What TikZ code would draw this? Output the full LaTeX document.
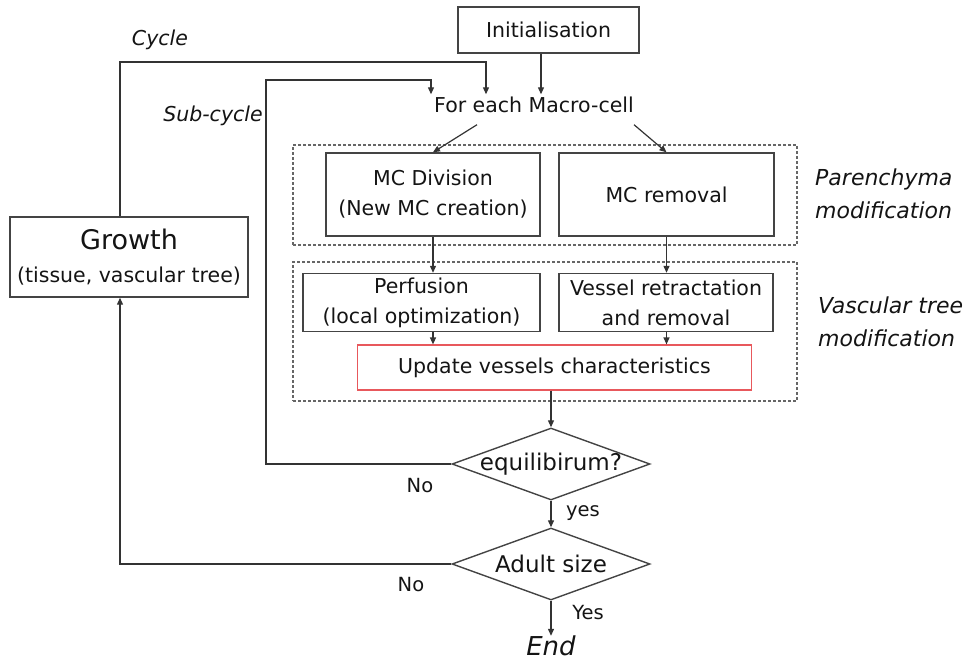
\documentclass[tikz,border=0pt]{standalone}
\usepackage{fontspec}
\setmainfont{DejaVu Sans}[ItalicFont={DejaVu Sans Oblique}]
\usetikzlibrary{arrows.meta,shapes.geometric}
\definecolor{ln}{HTML}{333333}
\definecolor{bx}{HTML}{444444}
\definecolor{dsh}{HTML}{666666}
\definecolor{rd}{HTML}{E8585C}
\definecolor{tx}{HTML}{141414}
\tikzset{
  arr/.style={draw=ln,line width=1.2pt,-{Triangle[length=7pt,width=6pt]}},
  box/.style={draw=bx,line width=1.4pt,rectangle,inner sep=0pt,align=center,text=tx,
     font=\fontsize{20.5}{30}\selectfont},
  redbox/.style={box,draw=rd,line width=1.2pt},
  dashbox/.style={draw=dsh,line width=1.2pt,dash pattern=on 3pt off 2pt,rectangle,inner sep=0pt},
  dmd/.style={draw=bx,line width=1.4pt,diamond,aspect=2.75,inner sep=-8pt,minimum width=198pt,minimum height=72pt,
     text=tx,font=\fontsize{23}{26}\selectfont},
  lbl/.style={text=tx,inner sep=0pt,font=\fontsize{19.5}{24}\selectfont},
  ilbl/.style={text=tx,inner sep=0pt,font=\itshape\fontsize{20.5}{24}\selectfont},
  side/.style={text=tx,inner sep=0pt,align=left,anchor=west,font=\itshape\fontsize{22}{33}\selectfont},
}
\begin{document}
\begin{tikzpicture}[x=1pt,y=-1pt]
\useasboundingbox (0,0) rectangle (980,662);

% dashed groups
\node[dashbox,minimum width=504pt,minimum height=100pt] (grp1) at (545,195) {};
\node[dashbox,minimum width=504pt,minimum height=139pt] (grp2) at (545,331.5) {};

% boxes
\node[box,minimum width=181pt,minimum height=46pt] (init) at (548.5,30) {Initialisation};
\node[text=tx,inner xsep=0pt,inner ysep=3pt,text height=15pt,text depth=4pt,
      font=\fontsize{20.5}{24}\selectfont] (fe) at (534,107) {For each Macro-cell};
\node[box,minimum width=214pt,minimum height=83pt] (mcd) at (433,194.5) {MC Division\\(New MC creation)};
\node[box,minimum width=215pt,minimum height=83pt] (mcr) at (666.5,194.5) {MC removal};
\node[box,minimum width=237pt,minimum height=58pt] (perf) at (421.5,302.5) {Perfusion\\(local optimization)};
\node[box,minimum width=214pt,minimum height=58pt] (ves) at (666,302.5) {Vessel retractation\\and removal};
\node[redbox,minimum width=394pt,minimum height=45pt] (upd) at (554.5,367.5) {Update vessels characteristics};
\node[dmd] (eq) at (551,464) {equilibirum?};
\node[dmd] (adult) at (551,564) {Adult size};
\node[text=tx,inner sep=0pt,text height=19pt,text depth=1pt,font=\itshape\fontsize{26}{30}\selectfont] (endt) at (551,646) {End};
\node[box,minimum width=238pt,minimum height=80pt] (growth) at (129,257)
   {{\fontsize{27}{34}\selectfont Growth}\\[3pt](tissue, vascular tree)};

% labels
\node[ilbl] (lcyc) at (160,40) {Cycle};
\node[ilbl] (lsub) at (213,116) {Sub-cycle};
\node[side] (lpar) at (815,193.5) {Parenchyma\\modification};
\node[side] (lvas) at (818,321.5) {Vascular tree\\modification};
\node[lbl] (no1) at (420,486) {No};
\node[lbl] (yes1) at (583,513) {yes};
\node[lbl] (no2) at (411,585) {No};
\node[lbl] (yes2) at (588,613) {Yes};

% connectors
\coordinate (cyc) at (120,62);
\coordinate (subc) at (266,80);
\draw[arr] ([xshift=-7.5pt]init.south) -- ([xshift=7pt]fe.north);
\draw[arr] ([xshift=-9pt]growth.north) -- (cyc) -| ([xshift=-48pt]fe.north);
\draw[arr] (eq.west) -| (subc) -| ([xshift=-103pt]fe.north);
\draw[arr] ([shift={(-57pt,-5pt)}]fe.south) -- (mcd.north);
\draw[arr] ([shift={(100pt,-5pt)}]fe.south) -- (mcr.north);
\draw[arr] (mcd.south) -- (mcd.south |- perf.north);
\draw[arr] (mcr.south) -- (mcr.south |- ves.north);
\draw[arr] (mcd.south |- perf.south) -- (mcd.south |- upd.north);
\draw[arr] (mcr.south |- ves.south) -- (mcr.south |- upd.north);
\draw[arr] (eq.north |- upd.south) -- (eq.north);
\draw[arr] (eq.south) -- (adult.north);
\draw[arr] (adult.west) -| ([xshift=-9pt]growth.south);
\draw[arr] (adult.south) -- (endt.north);
\end{tikzpicture}
\end{document}
